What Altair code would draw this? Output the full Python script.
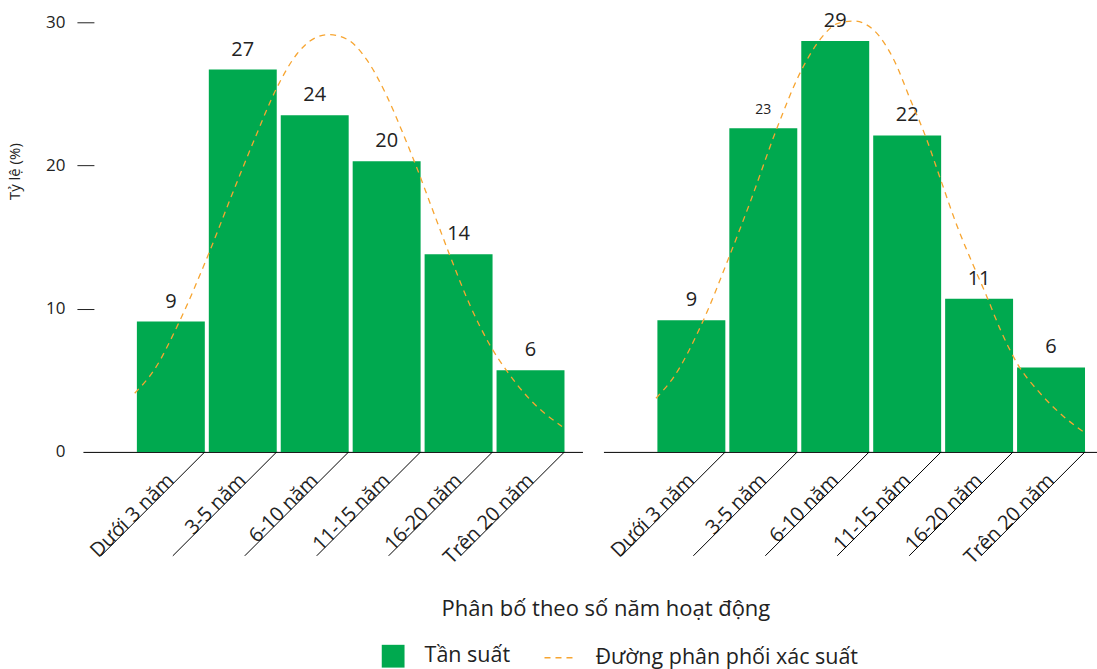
import altair as alt
import pandas as pd

categories = ["Dưới 3 năm", "3-5 năm", "6-10 năm", "11-15 năm", "16-20 năm", "Trên 20 năm"]
left_values = [9.1, 26.7, 23.5, 20.3, 13.8, 5.7]
right_values = [9.2, 22.6, 28.7, 22.1, 10.7, 5.9]

# density curve points, x in bar units (0 = left edge of first bar, 6 = right edge of last bar)
left_curve_u = [-0.03, 0.24, 0.59, 1.0, 1.31, 1.63, 1.94, 2.23, 2.46, 2.67, 2.93, 3.20, 3.48,
                3.69, 3.85, 4.13, 4.34, 4.64, 4.92, 5.15, 5.47, 5.91]
left_curve_v = [4.10, 5.72, 9.09, 13.86, 17.81, 21.77, 25.37, 27.82, 28.86, 29.14, 28.79, 27.35,
                24.79, 22.35, 20.37, 16.65, 13.86, 10.14, 7.35, 5.60, 3.63, 1.77]
right_curve_u = [-0.02, 0.23, 0.63, 0.98, 1.30, 1.66, 1.99, 2.29, 2.50, 2.73, 3.01, 3.29, 3.52,
                 3.73, 3.94, 4.17, 4.40, 4.58, 4.77, 5.0, 5.32, 5.65, 5.95]
right_curve_v = [3.75, 5.25, 9.09, 13.40, 17.58, 22.58, 26.53, 28.98, 29.91, 30.09, 29.44, 27.35,
                 24.56, 22.0, 18.98, 15.72, 12.93, 10.84, 8.51, 6.19, 4.10, 2.46, 1.30]

SERIES_BAR = "Tần suất"
SERIES_LINE = "Đường phân phối xác suất"
Y_TITLE = "Tỷ lệ (%)"
X_TITLE = "Phân bố theo số năm hoạt động"

GREEN = "#00A94F"
ORANGE = "#F7A531"
TEXT = "#222222"
FONT = "Open Sans"
STEP = 72.0
LEFT_OUT = 54.0


def panel(values, cu, cv, width, first):
    bars_df = pd.DataFrame({"cat": categories, "val": values, "s": SERIES_BAR})
    curve_df = pd.DataFrame({"u": cu, "v": cv, "s2": SERIES_LINE})
    pi = 4.0 / STEP
    outer = width - STEP * (6 - pi)
    po = (outer / STEP) / 2.0
    align = LEFT_OUT / outer
    xscale = alt.Scale(domain=categories, paddingInner=pi, paddingOuter=po, align=align)
    yscale = alt.Scale(domain=[0, 30], nice=False, zero=True)

    xlab = dict(labelAngle=-45, labelFontSize=20, labelColor=TEXT, labelFont=FONT,
                labelPadding=18, labelOffset=-7, ticks=False, domainColor="#000000",
                domainWidth=1, grid=False)
    if first:
        yaxis = alt.Axis(values=[0, 10, 20, 30], tickSize=17, offset=-11, domain=False, grid=False,
                         labelPadding=12, labelFontSize=17, labelColor=TEXT, labelFont=FONT,
                         tickColor=TEXT, tickWidth=1,
                         tickOpacity=alt.condition("datum.value == 0", alt.value(0), alt.value(1)),
                         title=Y_TITLE, titleFontSize=15, titleFontWeight="normal", titleFont=FONT,
                         titleColor=TEXT, titleX=-79, titleY=149, titleAlign="center",
                         titleBaseline="middle", titleAngle=-90)
        xaxis = alt.Axis(**xlab,
                         title=X_TITLE, titleFontSize=22, titleFontWeight="normal", titleFont=FONT,
                         titleColor=TEXT, titleX=523, titleY=157, titleAlign="center",
                         titleBaseline="middle")
    else:
        yaxis = None
        xaxis = alt.Axis(**xlab, title=None)

    bars = alt.Chart(bars_df).mark_bar().encode(
        x=alt.X("cat:N", scale=xscale, axis=xaxis, sort=categories),
        y=alt.Y("val:Q", scale=yscale, axis=yaxis),
        color=alt.Color("s:N", scale=alt.Scale(domain=[SERIES_BAR], range=[GREEN]),
                        legend=alt.Legend(title=None, orient="none", legendX=299, legendY=623,
                                          symbolType="square", symbolSize=520,
                                          symbolStrokeWidth=0, labelFontSize=21.5,
                                          labelFont=FONT, labelColor=TEXT, labelOffset=20,
                                          labelLimit=0)),
    )

    if first:
        size = alt.value(20)
    else:
        size = alt.condition("datum.cat == '3-5 năm'", alt.value(14), alt.value(20))
    labels = alt.Chart(bars_df).mark_text(dy=-14, baseline="alphabetic", font=FONT,
                                          color=TEXT).encode(
        x=alt.X("cat:N", sort=categories, axis=xaxis),
        y=alt.Y("val:Q", axis=yaxis),
        text=alt.Text("val:Q", format=".0f"),
        size=size,
    )

    slants = alt.Chart(bars_df).mark_rule(color="#000000", strokeWidth=1,
                                          x2Offset=-104, y2Offset=104).encode(
        x=alt.X("cat:N", sort=categories, bandPosition=1, axis=xaxis),
        x2=alt.X2("cat", bandPosition=1),
        y=alt.datum(0, axis=yaxis),
        y2=alt.datum(0),
    )

    d0 = -LEFT_OUT / STEP
    d1 = (width - LEFT_OUT) / STEP
    curve = alt.Chart(curve_df).mark_line(color=ORANGE, strokeWidth=1.3,
                                          interpolate="monotone").encode(
        x=alt.X("u:Q", scale=alt.Scale(domain=[d0, d1], nice=False, zero=False), axis=None),
        y=alt.Y("v:Q", axis=yaxis),
        strokeDash=alt.StrokeDash("s2:N", scale=alt.Scale(domain=[SERIES_LINE], range=[[6, 5]]),
                                  legend=alt.Legend(title=None, orient="none", legendX=461,
                                                    legendY=620, symbolType="stroke",
                                                    symbolSize=900, symbolStrokeColor=ORANGE,
                                                    symbolStrokeWidth=1.5, labelFontSize=21.5,
                                                    labelFont=FONT, labelColor=TEXT,
                                                    labelOffset=20, labelLimit=0)),
        order=alt.Order("u:Q"),
    )

    base = alt.layer(bars, slants, labels)
    return alt.layer(base, curve).resolve_scale(x="independent").properties(
        width=width, height=430)


left = panel(left_values, left_curve_u, left_curve_v, 500, True)
right = panel(right_values, right_curve_u, right_curve_v, 494, False)

chart = alt.hconcat(left, right, spacing=21, bounds="flush").resolve_scale(
    color="shared", strokeDash="shared"
).properties(
    padding={"left": 8, "top": 10, "right": 0, "bottom": 0},
    autosize=alt.AutoSizeParams(type="pad"),
).configure(font=FONT).configure_view(strokeWidth=0, stroke="transparent")

chart.save("out.html", embed_options={"renderer": "svg", "actions": False})
